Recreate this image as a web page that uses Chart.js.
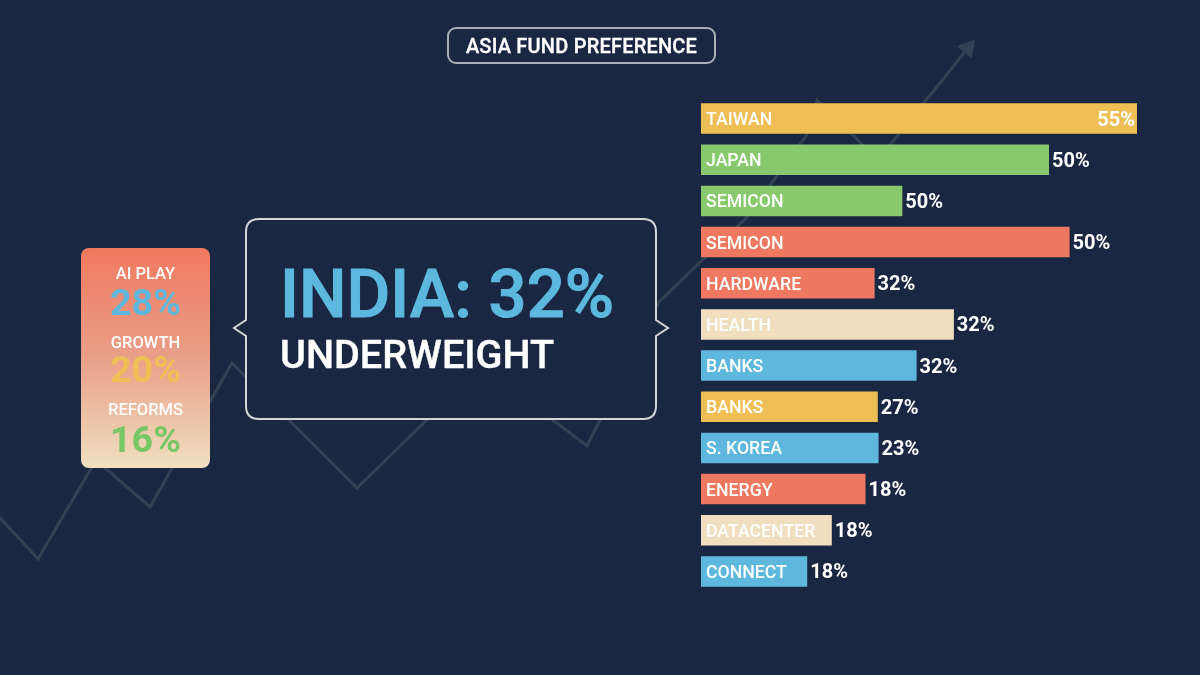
<!DOCTYPE html>
<html>
<head>
<meta charset="utf-8">
<title>Asia fund preference</title>
<script src="https://cdn.jsdelivr.net/npm/chart.js@4"></script>
<style>
  html, body { margin: 0; padding: 0; background: #1a2742; }
  body { position: relative; width: 1200px; height: 675px; overflow: hidden; font-family: Roboto, sans-serif; color: #fff; }
  canvas { position: absolute; left: 0; top: 0; }
  .title { position: absolute; left: 447px; top: 27px; width: 265px; height: 33px; border: 2px solid #a9afb8; border-radius: 9px;
    text-align: center; line-height: 34px; font-size: 20px; font-weight: 500; letter-spacing: 0.2px; -webkit-text-stroke: 0.3px #fff; }
  .card { position: absolute; left: 81px; top: 248px; width: 129px; height: 220px; border-radius: 8px;
    background: linear-gradient(180deg, #f0795f 0%, #e99f88 50%, #f0e0bf 100%); text-align: center; }
  .card div { position: absolute; left: 0; width: 100%; }
  .card .name { font-size: 16.5px; font-weight: 500; }
  .card .val { font-size: 37.5px; font-weight: 700; }
  .callout { position: absolute; left: 232px; top: 217px; }
  .big { position: absolute; left: 280px; top: 256px; font-size: 67px; font-weight: 500; color: #5cb8de; line-height: 76px; white-space: nowrap; -webkit-text-stroke: 1px #5cb8de; }
  .sub { position: absolute; left: 280px; top: 331px; font-size: 39.6px; font-weight: 500; line-height: 48px; white-space: nowrap; -webkit-text-stroke: 0.4px #fff; }
</style>
</head>
<body>
<canvas id="trend" width="1200" height="675"></canvas>
<canvas id="bars" width="1200" height="675"></canvas>
<svg class="callout" width="450" height="206" viewBox="232 217 450 206">
  <path d="M259 219 H643 Q656 219 656 232 V320 L668 328 L656 336 V406 Q656 419 643 419 H259 Q246 419 246 406 V336 L234 328 L246 320 V232 Q246 219 259 219 Z"
        fill="#1a2742" stroke="#d3d6d8" stroke-width="2"/>
</svg>
<div class="title">ASIA FUND PREFERENCE</div>
<div class="card" id="card"></div>
<div class="big">INDIA: 32%</div>
<div class="sub">UNDERWEIGHT</div>
<script>
// right hand ranking: names, printed numbers, and bar lengths as they are drawn
// (the drawn length does not follow the printed number in the source graphic)
const categories = ['TAIWAN', 'JAPAN', 'SEMICON', 'SEMICON', 'HARDWARE', 'HEALTH', 'BANKS', 'BANKS', 'S. KOREA', 'ENERGY', 'DATACENTER', 'CONNECT'];
const printedValues = [55, 50, 50, 50, 32, 32, 32, 27, 23, 18, 18, 18];
const barLengths = [55, 43.9, 25.4, 46.5, 21.9, 31.9, 27.2, 22.3, 22.4, 20.75, 16.5, 13.4];
const barColors = ['#efbf55', '#88c96e', '#88c96e', '#ee7960', '#ee7960', '#efdfbf', '#5eb8dd', '#efbf55', '#5eb8dd', '#ee7960', '#efdfbf', '#5eb8dd'];

// left card
const cardNames = ['AI PLAY', 'GROWTH', 'REFORMS'];
const cardValues = ['28%', '20%', '16%'];
const cardColors = ['#5eb8dd', '#efbf55', '#78c765'];

// faint trend line behind everything
const trendX = [-10, 38, 96, 150, 232, 357, 482, 587, 658, 747, 806, 817, 878, 968];
const trendY = [507, 559, 460, 507, 363, 488, 366, 446, 303, 217, 136, 100, 160, 48];

const card = document.getElementById('card');
const nameTops = [16, 85, 152];
const valTops = [32, 99, 169];
cardNames.forEach((name, i) => {
    const n = document.createElement('div');
    n.className = 'name';
    n.style.top = nameTops[i] + 'px';
    n.textContent = name;
    const v = document.createElement('div');
    v.className = 'val';
    v.style.top = valTops[i] + 'px';
    v.style.color = cardColors[i];
    v.textContent = cardValues[i];
    card.appendChild(n);
    card.appendChild(v);
});

new Chart(document.getElementById('trend'), {
    type: 'line',
    data: {
        datasets: [{
            data: trendX.map((x, i) => ({ x: x, y: trendY[i] })),
            borderColor: '#314255',
            borderWidth: 3,
            tension: 0,
            pointBackgroundColor: '#314255',
            pointBorderWidth: 0,
            pointStyle: 'triangle',
            pointRotation: 40,
            pointRadius: trendX.map((x, i) => i === trendX.length - 1 ? 11 : 0)
        }]
    },
    options: {
        responsive: false,
        animation: false,
        layout: { padding: 0, autoPadding: false },
        plugins: { legend: { display: false }, tooltip: { enabled: false } },
        scales: {
            x: { type: 'linear', min: 0, max: 1200, display: false },
            y: { min: 0, max: 675, reverse: true, display: false }
        }
    }
});

// names inside the bar, numbers after it
const barText = {
    id: 'barText',
    afterDatasetsDraw(chart) {
        const ctx = chart.ctx;
        const meta = chart.getDatasetMeta(0);
        ctx.save();
        ctx.fillStyle = '#fff';
        ctx.textBaseline = 'middle';
        meta.data.forEach((bar, i) => {
            ctx.font = '500 17.7px Roboto';
            ctx.textAlign = 'left';
            ctx.fillText(categories[i], chart.chartArea.left + 5, bar.y + 2);
            ctx.font = '700 20px Roboto';
            if (i === 0) {
                ctx.textAlign = 'right';
                ctx.fillText(printedValues[i] + '%', bar.x - 2, bar.y + 2);
            } else {
                ctx.fillText(printedValues[i] + '%', bar.x + 3, bar.y + 2);
            }
        });
        ctx.restore();
    }
};

new Chart(document.getElementById('bars'), {
    type: 'bar',
    data: {
        labels: categories,
        datasets: [{
            data: barLengths,
            backgroundColor: barColors,
            borderWidth: 0,
            barPercentage: 0.741,
            categoryPercentage: 1
        }]
    },
    options: {
        indexAxis: 'y',
        responsive: false,
        animation: false,
        layout: { padding: { left: 701, right: 0, top: 98, bottom: 83 } },
        plugins: { legend: { display: false }, tooltip: { enabled: false } },
        scales: {
            x: { min: 0, max: 62.95, display: false },
            y: { display: false }
        }
    },
    plugins: [barText]
});
</script>
</body>
</html>
